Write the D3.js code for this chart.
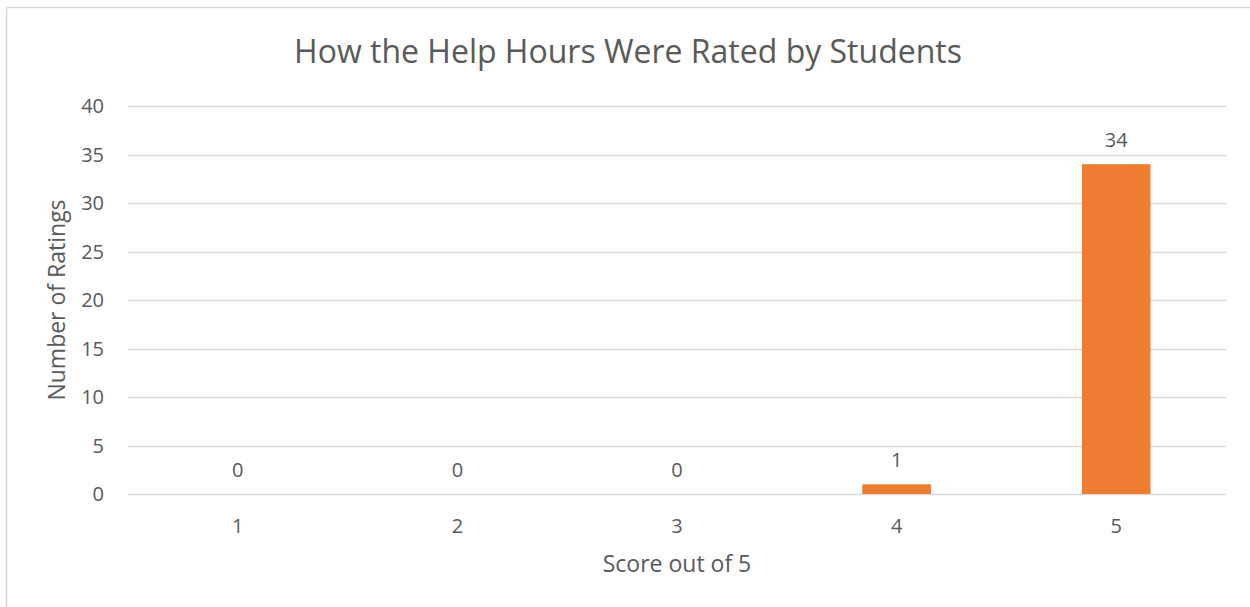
<!DOCTYPE html>
<html>
<head>
<meta charset="UTF-8">
<title>How the Help Hours Were Rated by Students</title>
<script src="https://cdn.jsdelivr.net/npm/d3@7"></script>
<style>
	body { margin: 0; background: #fff; }
	svg text { font-family: "Open Sans", "Noto Sans", sans-serif; fill: #595959; }
</style>
</head>
<body>
<div id="chart"></div>
<script>
	// data
	var scores = ["1", "2", "3", "4", "5"];
	var ratings = [0, 0, 0, 1, 34];
	var yTicks = [0, 5, 10, 15, 20, 25, 30, 35, 40];

	var W = 1250, H = 607;
	var plot = { left: 128, right: 1226, top: 106, bottom: 494 };

	var svg = d3.select("#chart").append("svg")
		.attr("width", W)
		.attr("height", H);

	// chart frame: top and left edges show, the rest runs off the page
	svg.append("path")
		.attr("d", "M6.5," + H + "V7.5H" + W)
		.attr("fill", "none")
		.attr("stroke", "#d9d9d9")
		.attr("stroke-width", 1.5);

	var x = d3.scaleBand()
		.domain(scores)
		.range([plot.left, plot.right])
		.padding(0);

	var y = d3.scaleLinear()
		.domain([0, 40])
		.range([plot.bottom, plot.top]);

	var barW = x.bandwidth() * 0.3125;

	// gridlines
	svg.append("g")
		.selectAll("line")
		.data(yTicks)
		.join("line")
		.attr("x1", plot.left)
		.attr("x2", plot.right)
		.attr("y1", function(d) { return Math.round(y(d)) + 0.5; })
		.attr("y2", function(d) { return Math.round(y(d)) + 0.5; })
		.attr("stroke", "#d9d9d9")
		.attr("stroke-width", 1.3);

	// y tick labels
	svg.append("g")
		.selectAll("text")
		.data(yTicks)
		.join("text")
		.attr("x", 104)
		.attr("y", function(d) { return y(d); })
		.attr("dy", "0.35em")
		.attr("text-anchor", "end")
		.style("font-size", "20px")
		.text(function(d) { return d; });

	// x tick labels
	svg.append("g")
		.selectAll("text")
		.data(scores)
		.join("text")
		.attr("x", function(d) { return x(d) + x.bandwidth() / 2; })
		.attr("y", 533)
		.attr("text-anchor", "middle")
		.style("font-size", "20px")
		.text(function(d) { return d; });

	// bars
	svg.append("g")
		.selectAll("rect")
		.data(ratings)
		.join("rect")
		.attr("x", function(d, i) { return x(scores[i]) + (x.bandwidth() - barW) / 2; })
		.attr("y", function(d) { return y(d); })
		.attr("width", barW)
		.attr("height", function(d) { return y(0) - y(d); })
		.attr("fill", "#ed7d31");

	// data labels
	svg.append("g")
		.selectAll("text")
		.data(ratings)
		.join("text")
		.attr("x", function(d, i) { return x(scores[i]) + x.bandwidth() / 2; })
		.attr("y", function(d) { return y(d) - 17; })
		.attr("text-anchor", "middle")
		.style("font-size", "20px")
		.text(function(d) { return d; });

	// titles
	svg.append("text")
		.attr("x", 628)
		.attr("y", 63)
		.attr("text-anchor", "middle")
		.style("font-size", "32px")
		.text("How the Help Hours Were Rated by Students");

	svg.append("text")
		.attr("x", (plot.left + plot.right) / 2)
		.attr("y", 572)
		.attr("text-anchor", "middle")
		.style("font-size", "23px")
		.text("Score out of 5");

	svg.append("text")
		.attr("transform", "translate(65,300) rotate(-90)")
		.attr("text-anchor", "middle")
		.style("font-size", "23px")
		.text("Number of Ratings");
</script>
</body>
</html>
